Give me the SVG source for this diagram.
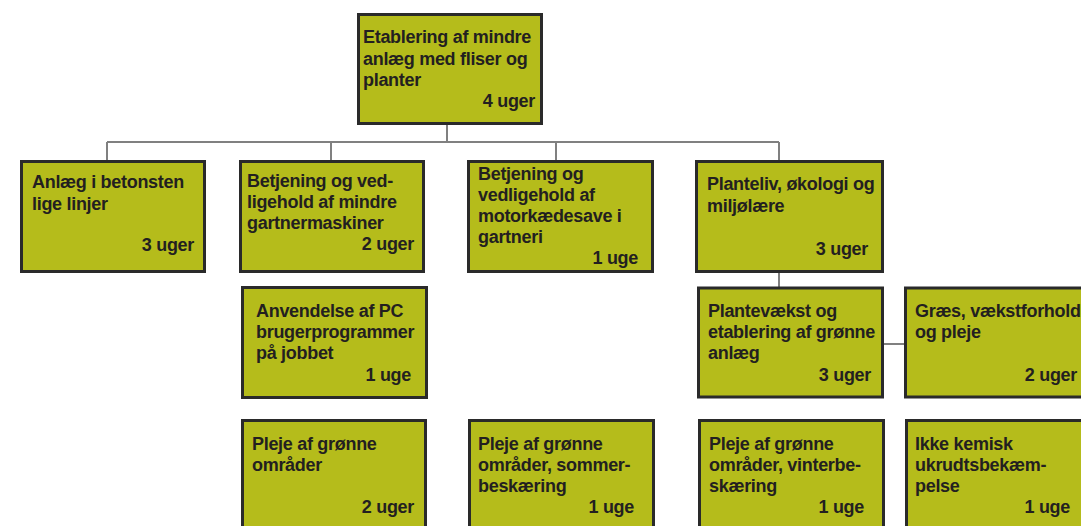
<svg xmlns="http://www.w3.org/2000/svg" width="1081" height="526" viewBox="0 0 1081 526">
<style>
  .box{fill:#b5bc1b;stroke:#2a2a2a;stroke-width:3}
  .t{font-family:"Liberation Sans",Arial,sans-serif;font-weight:bold;font-size:18px;letter-spacing:-0.3px;fill:#231f20}
  .d{text-anchor:end}
  .c{stroke:#808080;stroke-width:2;fill:none}
</style>
<rect width="1081" height="526" fill="#ffffff"/>
<g id="connectors">
  <path class="c" d="M447 125V142M107 142H779M107 142V160M331 142V160M556 142V160M779 142V160M779 273V287M884 344H905"/>
</g>
<g id="n0">
  <rect class="box" x="358.5" y="14.5" width="183" height="109"/>
  <text class="t" x="363" y="43">Etablering af mindre</text>
  <text class="t" x="363" y="65">anlæg med fliser og</text>
  <text class="t" x="363" y="86">planter</text>
  <text class="t d" x="535" y="107">4 uger</text>
</g>
<g id="n1">
  <rect class="box" x="21.5" y="161.5" width="183" height="110"/>
  <text class="t" x="32" y="188">Anlæg i betonsten</text>
  <text class="t" x="32" y="210">lige linjer</text>
  <text class="t d" x="194" y="251">3 uger</text>
</g>
<g id="n2">
  <rect class="box" x="240.5" y="161.5" width="183" height="110"/>
  <text class="t" x="247" y="187">Betjening og ved-</text>
  <text class="t" x="247" y="208">ligehold af mindre</text>
  <text class="t" x="247" y="229">gartnermaskiner</text>
  <text class="t d" x="414" y="250">2 uger</text>
</g>
<g id="n3">
  <rect class="box" x="468.5" y="161.5" width="184" height="110"/>
  <text class="t" x="478" y="180">Betjening og</text>
  <text class="t" x="478" y="201">vedligehold af</text>
  <text class="t" x="478" y="222">motorkædesave i</text>
  <text class="t" x="478" y="243">gartneri</text>
  <text class="t d" x="638" y="264">1 uge</text>
</g>
<g id="n4">
  <rect class="box" x="696.5" y="161.5" width="186" height="110"/>
  <text class="t" x="707" y="190">Planteliv, økologi og</text>
  <text class="t" x="707" y="212">miljølære</text>
  <text class="t d" x="868" y="255">3 uger</text>
</g>
<g id="n5">
  <rect class="box" x="242.5" y="287.5" width="184" height="110"/>
  <text class="t" x="256" y="317">Anvendelse af PC</text>
  <text class="t" x="256" y="338">brugerprogrammer</text>
  <text class="t" x="256" y="359">på jobbet</text>
  <text class="t d" x="411" y="381">1 uge</text>
</g>
<g id="n6">
  <rect class="box" x="698.5" y="288" width="184" height="109"/>
  <text class="t" x="708" y="317">Plantevækst og</text>
  <text class="t" x="708" y="338">etablering af grønne</text>
  <text class="t" x="708" y="359">anlæg</text>
  <text class="t d" x="871" y="381">3 uger</text>
</g>
<g id="n7">
  <rect class="box" x="905.5" y="288" width="186" height="109"/>
  <text class="t" x="915" y="317">Græs, vækstforhold</text>
  <text class="t" x="915" y="338">og pleje</text>
  <text class="t d" x="1077" y="381">2 uger</text>
</g>
<g id="n8">
  <rect class="box" x="242.5" y="420.5" width="183" height="120"/>
  <text class="t" x="252" y="450">Pleje af grønne</text>
  <text class="t" x="252" y="471">områder</text>
  <text class="t d" x="414" y="513">2 uger</text>
</g>
<g id="n9">
  <rect class="box" x="469.5" y="420.5" width="184" height="120"/>
  <text class="t" x="478" y="450">Pleje af grønne</text>
  <text class="t" x="478" y="471">områder, sommer-</text>
  <text class="t" x="478" y="492">beskæring</text>
  <text class="t d" x="634" y="513">1 uge</text>
</g>
<g id="n10">
  <rect class="box" x="699.5" y="420.5" width="184" height="120"/>
  <text class="t" x="709" y="450">Pleje af grønne</text>
  <text class="t" x="709" y="471">områder, vinterbe-</text>
  <text class="t" x="709" y="492">skæring</text>
  <text class="t d" x="864" y="513">1 uge</text>
</g>
<g id="n11">
  <rect class="box" x="906.5" y="420.5" width="184" height="120"/>
  <text class="t" x="915" y="450">Ikke kemisk</text>
  <text class="t" x="915" y="471">ukrudtsbekæm-</text>
  <text class="t" x="915" y="492">pelse</text>
  <text class="t d" x="1070" y="513">1 uge</text>
</g>
</svg>
